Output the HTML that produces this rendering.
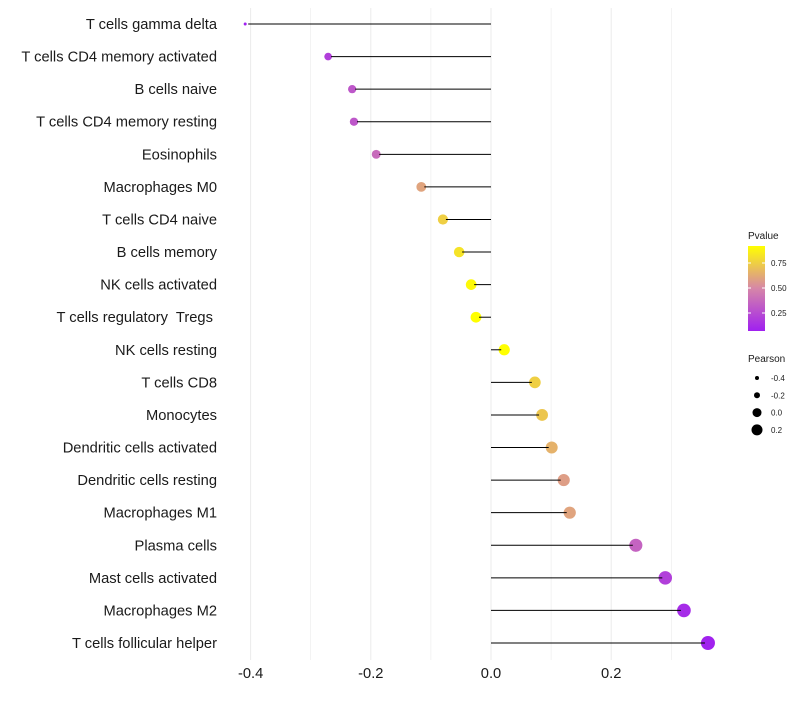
<!DOCTYPE html>
<html><head><meta charset="utf-8"><style>
body{margin:0;background:#fff;font-family:"Liberation Sans",sans-serif}
svg text{font-family:"Liberation Sans",sans-serif;white-space:pre}
</style></head><body>
<svg id="c" width="800" height="700"></svg>
<script>
const categories=["T cells gamma delta","T cells CD4 memory activated","B cells naive","T cells CD4 memory resting","Eosinophils","Macrophages M0","T cells CD4 naive","B cells memory","NK cells activated","T cells regulatory  Tregs ","NK cells resting","T cells CD8","Monocytes","Dendritic cells activated","Dendritic cells resting","Macrophages M1","Plasma cells","Mast cells activated","Macrophages M2","T cells follicular helper"];
const pearson=[-0.409,-0.271,-0.231,-0.228,-0.191,-0.116,-0.080,-0.053,-0.033,-0.025,0.022,0.073,0.085,0.101,0.121,0.131,0.241,0.290,0.321,0.361];
const pvalue=[0.06,0.2,0.3,0.3,0.38,0.6,0.75,0.82,0.9,0.93,0.95,0.75,0.72,0.65,0.58,0.6,0.35,0.2,0.12,0.08];
const xTicks=[-0.4,-0.2,0.0,0.2];
const xTickLabels=["-0.4","-0.2","0.0","0.2"];
const sizeLegend=[-0.4,-0.2,0.0,0.2];
const pLegend=[0.25,0.50,0.75];
const NS="http://www.w3.org/2000/svg";
const svg=document.getElementById('c');
function el(t,a,p){const e=document.createElementNS(NS,t);for(const k in a)e.setAttribute(k,a[k]);(p||svg).appendChild(e);return e;}
const x=v=>491+v*601;
const y=i=>24+i*(643-24)/19;
const r=v=>1.5+5.5*Math.sqrt(Math.max(0,(v+0.409)/0.77));
function lerp(a,b,t){return a.map((v,i)=>Math.round(v+(b[i]-v)*t));}
function col(p){const t=Math.max(0,Math.min(1,(p-0.07)/(0.92-0.07)));const A=[160,32,240],M=[214,134,168],B=[255,255,0];const c=t<0.5?lerp(A,M,t*2):lerp(M,B,(t-0.5)*2);return `rgb(${c})`;}
[-0.4,-0.3,-0.2,-0.1,0,0.1,0.2,0.3].forEach((v,i)=>{const g=el('line',{x1:x(v),x2:x(v),y1:8,y2:660,stroke:'#ebebeb','stroke-width':i%2==0?1:0.6});

});
categories.forEach((c,i)=>{
const t=el('text',{x:217,y:y(i)+5,'text-anchor':'end','font-size':14.7,fill:'#1a1a1a'});t.textContent=c;


const d=el('circle',{cx:x(pearson[i]),cy:y(i),r:r(pearson[i]),fill:col(pvalue[i])});


const ln=el('line',{x1:x(0),x2:x(pearson[i])+(pearson[i]>0?-3:3),y1:y(i),y2:y(i),stroke:'#000','stroke-width':1});


});
xTicks.forEach((v,i)=>{const t=el('text',{x:x(v),y:678,'text-anchor':'middle','font-size':14.7,fill:'#1a1a1a'});t.textContent=xTickLabels[i];

});
const defs=el('defs',{});const lg=el('linearGradient',{id:'g',x1:0,y1:1,x2:0,y2:0},defs);
for(let k=0;k<=10;k++){el('stop',{offset:k/10,'stop-color':col(0.07+k/10*0.85)},lg);}
const lt=el('text',{x:748,y:239,'font-size':10,fill:'#1a1a1a'});lt.textContent='Pvalue';


const bar=el('rect',{x:748,y:246,width:17,height:85,fill:'url(#g)'});


const py=p=>331-(p-0.07)/(0.92-0.07)*85;
pLegend.forEach(p=>{el('line',{x1:748,x2:751,y1:py(p),y2:py(p),stroke:'#fff'});el('line',{x1:762,x2:765,y1:py(p),y2:py(p),stroke:'#fff'});
const t=el('text',{x:771,y:py(p)+3,'font-size':8,fill:'#1a1a1a'});t.textContent=p.toFixed(2);

});
const st=el('text',{x:748,y:362,'font-size':10,fill:'#1a1a1a'});st.textContent='Pearson';


const lr=[2,3,4.5,5.5];
sizeLegend.forEach((v,i)=>{const cy=378+i*17.3;const c=el('circle',{cx:757,cy:cy,r:lr[i],fill:'#000'});


const t=el('text',{x:771,y:cy+3,'font-size':8,fill:'#1a1a1a'});t.textContent=v.toFixed(1);

});
</script>
</body></html>
